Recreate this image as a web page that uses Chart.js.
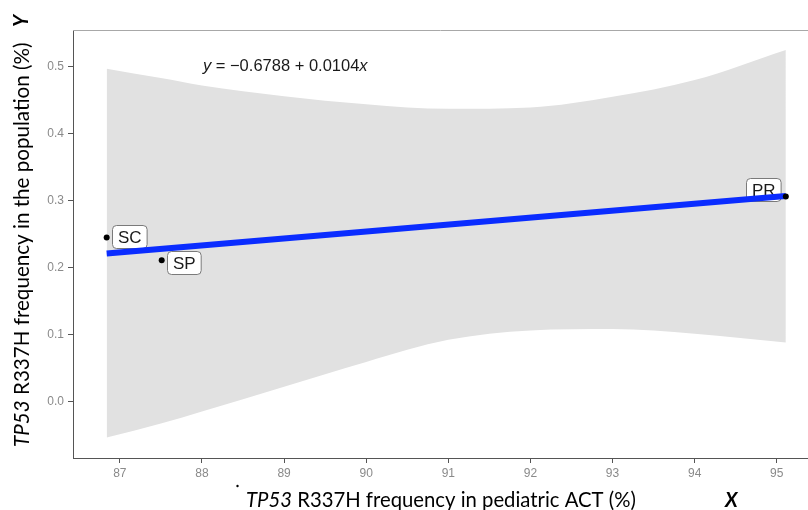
<!DOCTYPE html>
<html>
<head>
<meta charset="utf-8">
<script src="https://cdn.jsdelivr.net/npm/chart.js@4.4.1/dist/chart.umd.min.js"></script>
<style>
  html, body { margin: 0; padding: 0; background: #ffffff; }
  canvas { display: block; }
</style>
</head>
<body>
<canvas id="c" width="808" height="510"></canvas>
<script>
// ---- data ----
const categories = ['SC', 'SP', 'PR'];
const actFreq = [86.84, 87.51, 95.11];          // x: TP53 R337H frequency in pediatric ACT (%)
const popFreq = [0.245, 0.211, 0.306];          // y: TP53 R337H frequency in the population (%)
const fitX = [86.84, 95.11];
const fitY = [0.221, 0.307];
const bandX = [86.84, 87.5, 88, 89, 90, 91, 92, 93, 94, 95.11];
const bandUpper = [0.497, 0.483, 0.472, 0.456, 0.444, 0.437, 0.439, 0.455, 0.480, 0.525];
const bandLower = [-0.054, -0.033, -0.015, 0.022, 0.059, 0.092, 0.106, 0.108, 0.101, 0.088];
const xTicks = [87, 88, 89, 90, 91, 92, 93, 94, 95];
const yTicks = [0.0, 0.1, 0.2, 0.3, 0.4, 0.5];
const equationParts = [['y', true], [' = \u22120.6788 + 0.0104', false], ['x', true]];
const equationAnchor = [88.0, 0.5];
const xTitle = [['TP53', true], [' R337H frequency in pediatric ACT (%)', false]];
const yTitle = [['TP53', true], [' R337H frequency in the population (%)', false]];

// label nudges in pixels (style, not data)
const labelNudge = { SC: [5, -1, 'left'], SP: [5, 2, 'left'], PR: [-5, -7, 'right'] };

const toXY = (xs, ys) => xs.map((x, i) => ({ x: x, y: ys[i] }));

const TITLE_FONT = 'Lato';
const TICK_FONT = 'Liberation Sans';

function drawMixed(ctx, parts, size, weight) {
  let x = 0;
  for (const [t, it] of parts) {
    ctx.font = (it ? 'italic ' : '') + (weight || '') + ' ' + size + 'px "' + TITLE_FONT + '"';
    ctx.fillText(t, x, 0);
    x += ctx.measureText(t).width;
  }
  return x;
}

function roundRect(ctx, x, y, w, h, r) {
  ctx.beginPath();
  ctx.moveTo(x + r, y);
  ctx.lineTo(x + w - r, y);
  ctx.quadraticCurveTo(x + w, y, x + w, y + r);
  ctx.lineTo(x + w, y + h - r);
  ctx.quadraticCurveTo(x + w, y + h, x + w - r, y + h);
  ctx.lineTo(x + r, y + h);
  ctx.quadraticCurveTo(x, y + h, x, y + h - r);
  ctx.lineTo(x, y + r);
  ctx.quadraticCurveTo(x, y, x + r, y);
  ctx.closePath();
}

const decor = {
  id: 'decor',
  beforeDatasetDraw(chart, args) {
    if (args.index !== 2) return; // draw labels just before the fit line
    const ctx = chart.ctx;
    const xs = chart.scales.x, ys = chart.scales.y;
    ctx.save();
    ctx.font = '17px "' + TICK_FONT + '"';
    categories.forEach((c, i) => {
      const px = xs.getPixelForValue(actFreq[i]);
      const py = ys.getPixelForValue(popFreq[i]);
      const [dx, dy, side] = labelNudge[c];
      const tw = ctx.measureText(c).width;
      const w = tw + 11, h = 23;
      const bx = side === 'left' ? px + dx : px + dx - w;
      const by = py + dy - h / 2;
      roundRect(ctx, Math.round(bx) + 0.5, Math.round(by) + 0.5, w, h, 4);
      ctx.fillStyle = '#ffffff';
      ctx.fill();
      ctx.strokeStyle = '#7a7a7a';
      ctx.lineWidth = 1;
      ctx.stroke();
      ctx.fillStyle = '#1a1a1a';
      ctx.textBaseline = 'middle';
      ctx.textAlign = 'left';
      ctx.fillText(c, Math.round(bx) + 6, Math.round(by) + h / 2 + 1.5);
    });
    ctx.restore();
  },
  afterDraw(chart) {
    const ctx = chart.ctx;
    const a = chart.chartArea;
    const xs = chart.scales.x, ys = chart.scales.y;
    ctx.save();
    // top frame line
    ctx.strokeStyle = '#a8a8a8';
    ctx.lineWidth = 1;
    ctx.beginPath();
    ctx.moveTo(a.left, a.top + 0.5);
    ctx.lineTo(chart.width, a.top + 0.5);
    ctx.stroke();

    // equation
    ctx.fillStyle = '#1a1a1a';
    ctx.textBaseline = 'middle';
    let ex = xs.getPixelForValue(equationAnchor[0]) + 1;
    const ey = ys.getPixelForValue(equationAnchor[1]);
    for (const [t, it] of equationParts) {
      ctx.font = (it ? 'italic ' : '') + '16.5px "' + TICK_FONT + '"';
      ctx.fillText(t, ex, ey);
      ex += ctx.measureText(t).width;
    }

    // x title
    ctx.textBaseline = 'alphabetic';
    ctx.fillStyle = '#000000';
    ctx.save();
    ctx.translate(246, 507);
    drawMixed(ctx, xTitle, 20.3);
    ctx.restore();

    // y title
    ctx.save();
    ctx.translate(29, 447);
    ctx.rotate(-Math.PI / 2);
    drawMixed(ctx, yTitle, 20.6);
    ctx.restore();

    // axis letters
    ctx.font = 'italic bold 20px "' + TITLE_FONT + '"';
    ctx.fillText('X', 725, 507);
    ctx.save();
    ctx.translate(28, 27);
    ctx.rotate(-Math.PI / 2);
    ctx.fillText('Y', 0, 0);
    ctx.restore();

    // small stray dot
    ctx.beginPath();
    ctx.arc(237.5, 486, 1.2, 0, Math.PI * 2);
    ctx.fill();
    ctx.restore();
  }
};

new Chart(document.getElementById('c'), {
  type: 'scatter',
  data: {
    datasets: [
      {
        type: 'line', label: 'upper', data: toXY(bandX, bandUpper),
        borderWidth: 0, borderColor: 'rgba(0,0,0,0)', pointRadius: 0,
        backgroundColor: '#e1e1e1', fill: '+1', cubicInterpolationMode: 'monotone', order: 11
      },
      {
        type: 'line', label: 'lower', data: toXY(bandX, bandLower),
        borderWidth: 0, borderColor: 'rgba(0,0,0,0)', pointRadius: 0,
        fill: false, cubicInterpolationMode: 'monotone', order: 10
      },
      {
        type: 'line', label: 'fit', data: toXY(fitX, fitY),
        borderColor: '#0a2cff', borderWidth: 6, pointRadius: 0, fill: false,
        borderCapStyle: 'butt', order: 1
      },
      {
        type: 'scatter', label: 'points', data: toXY(actFreq, popFreq),
        pointRadius: 3, pointHoverRadius: 3, pointBackgroundColor: '#000', pointBorderWidth: 0, order: 0
      }
    ]
  },
  options: {
    responsive: false,
    animation: false,
    devicePixelRatio: 1,
    layout: { autoPadding: false, padding: { top: 30, left: 0, right: 0, bottom: 0 } },
    plugins: { legend: { display: false }, tooltip: { enabled: false } },
    scales: {
      x: {
        type: 'linear', min: 86.43, max: 95.38,
        afterBuildTicks: s => { s.ticks = xTicks.map(v => ({ value: v })); },
        afterFit: s => { s.height = 52; },
        ticks: { color: '#8a8a8a', font: { family: TICK_FONT, size: 12 }, padding: 3, maxRotation: 0,
                 callback: v => String(v) },
        grid: { drawOnChartArea: false, drawTicks: true, tickLength: 5, tickColor: '#555', tickWidth: 1 },
        border: { display: true, color: '#555', width: 1 }
      },
      y: {
        type: 'linear', min: -0.0845, max: 0.5548,
        afterBuildTicks: s => { s.ticks = yTicks.map(v => ({ value: v })); },
        afterFit: s => { s.width = 73; },
        ticks: { color: '#8a8a8a', font: { family: TICK_FONT, size: 12 }, padding: 4,
                 callback: v => Number(v).toFixed(1) },
        grid: { drawOnChartArea: false, drawTicks: true, tickLength: 5, tickColor: '#555', tickWidth: 1 },
        border: { display: true, color: '#555', width: 1 }
      }
    }
  },
  plugins: [decor]
});
</script>
</body>
</html>
